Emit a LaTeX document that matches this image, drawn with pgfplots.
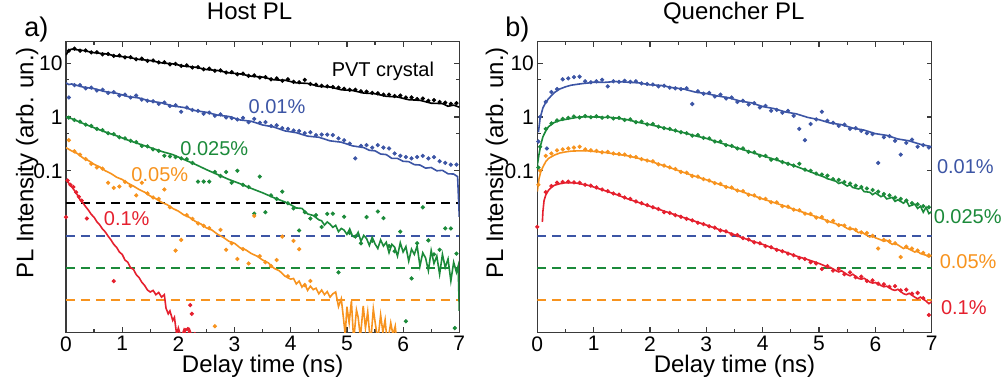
\documentclass[border=0pt]{standalone}
\usepackage{fontspec}
\setmainfont{Liberation Sans}
\usepackage{pgfplots}
\pgfplotsset{compat=1.18}
\definecolor{cblue}{HTML}{3C55A5}
\definecolor{cgreen}{HTML}{1B8A3A}
\definecolor{corange}{HTML}{F7931E}
\definecolor{cred}{HTML}{E5202E}
\definecolor{axgray}{HTML}{3A3A3A}
\tikzset{
  fitline/.style={line width=0.8pt, mark=none},
  dots/.style={only marks, mark=*, mark size=0.85pt},
  floor/.style={line width=0.8pt, dash pattern=on 4.5pt off 3pt, mark=none},
  ann/.style={font=\fontsize{10}{12}\selectfont, anchor=base, inner sep=0pt},
}
\pgfplotsset{
  every axis/.append style={
    ymode=log, xmin=0, xmax=7, ymin=1e-4, ymax=25,
    scale only axis, height=145.3pt,
    xtick={0,1,2,3,4,5,6,7}, minor x tick num=1,
    ytick={0.1,1,10}, yticklabels={0.1,1,10}, minor ytick={0.5,5},
    tick align=inside, major tick length=2.6pt, minor tick length=1.6pt,
    axis line style={draw=axgray, line width=0.7pt},
    every tick/.style={axgray, line width=0.6pt},
    tick label style={font=\fontsize{10.5}{12}\selectfont},
    yticklabel style={inner xsep=1.5pt},
    xticklabel style={yshift=1.5pt},
    /pgf/number format/assume math mode=true,
    title style={font=\fontsize{12}{14}\selectfont, anchor=base, inner sep=0pt},
  },
  every axis x label/.style={at={(axis description cs:0.5,0)}, anchor=north, yshift=-11.4pt, inner sep=0pt, font=\fontsize{12}{14}\selectfont},
}
\begin{document}
\begin{tikzpicture}
\useasboundingbox (0,0) rectangle (502.5pt,189pt);
% ================= LEFT: Host PL =================
\begin{axis}[at={(33pt,22.85pt)}, anchor=south west, width=196.65pt,
  title={Host PL}, title style={at={(axis description cs:0.467,1)}, yshift=5pt},
  xlabel={Delay time (ns)}, ylabel={PL Intensity (arb. un.)},
  every axis y label/.style={at={(axis description cs:-0.099,0.583)}, rotate=90, anchor=center, inner sep=0pt, font=\fontsize{12}{14}\selectfont}]
\addplot[floor, black] coordinates {(0,0.0251) (7,0.0251)};
\addplot[floor, cblue] coordinates {(0,0.0062) (7,0.0062)};
\addplot[floor, cgreen] coordinates {(0,0.00157) (7,0.00157)};
\addplot[floor, corange] coordinates {(0,0.000395) (7,0.000395)};
% black
\addplot[dots, black] coordinates {(0.05,17.0)(0.15,18.6)(0.25,17.0)(0.35,17.2)(0.45,15.8)(0.55,15.9)(0.65,14.6)(0.75,14.8)(0.85,13.6)(0.95,13.9)(1.05,12.8)(1.15,12.9)(1.25,11.8)(1.35,12.1)(1.45,11.0)(1.55,11.2)(1.65,10.3)(1.75,10.4)(1.85,9.5)(1.95,9.7)(2.05,8.9)(2.15,9.1)(2.25,8.3)(2.35,8.4)(2.45,7.7)(2.55,7.9)(2.65,7.2)(2.75,7.3)(2.85,6.7)(2.95,6.8)(3.05,6.2)(3.15,6.4)(3.25,5.8)(3.35,5.9)(3.45,5.4)(3.55,5.5)(3.65,5.0)(3.75,5.2)(3.85,4.7)(3.95,5.0)(4.05,4.5)(4.15,4.4)(4.25,4.9)(4.35,4.1)(4.45,4.0)(4.55,3.8)(4.65,3.7)(4.75,3.6)(4.85,3.5)(4.95,3.35)(5.05,3.2)(5.15,3.2)(5.25,3.0)(5.35,2.95)(5.45,2.8)(5.55,2.75)(5.65,2.6)(5.75,2.6)(5.85,2.45)(5.95,2.5)(6.05,2.3)(6.15,2.3)(6.25,2.15)(6.35,2.2)(6.45,2.0)(6.55,2.05)(6.65,1.9)(6.75,1.85)(6.85,1.75)(6.95,1.8)};
\addplot[fitline, black] coordinates {(0,14.1)(0.05,17.4)(0.1,18.2)(0.3,17.2)(0.5,15.6)(0.7,14.9)(0.9,13.5)(1.1,12.9)(1.3,11.7)(1.5,11.2)(1.7,10.1)(1.9,9.7)(2.1,8.8)(2.3,8.4)(2.5,7.6)(2.7,7.3)(2.9,6.6)(3.1,6.3)(3.3,5.7)(3.5,5.5)(3.7,4.9)(3.9,4.8)(4.1,4.3)(4.3,4.2)(4.5,3.7)(4.7,3.6)(4.9,3.2)(5.1,3.1)(5.3,2.78)(5.5,2.70)(5.7,2.42)(5.9,2.35)(6.1,2.09)(6.3,2.04)(6.5,1.80)(6.7,1.77)(6.8,1.58)(6.9,1.66)(7.0,1.52)};
% blue
\addplot[dots, cblue] coordinates {(0.05,2.3)(0.15,3.9)(0.25,3.9)(0.35,3.4)(0.45,3.5)(0.55,3.1)(0.65,3.2)(0.75,2.8)(0.85,2.9)(0.95,2.5)(1.05,2.6)(1.15,2.3)(1.25,2.5)(1.35,2.1)(1.45,2.0)(1.55,1.95)(1.65,1.75)(1.75,1.85)(1.85,1.6)(1.95,1.65)(2.05,1.25)(2.15,1.5)(2.25,1.35)(2.35,1.30)(2.45,1.15)(2.55,1.2)(2.65,1.05)(2.75,1.12)(2.85,0.98)(2.95,0.95)(3.05,0.90)(3.15,0.96)(3.25,0.80)(3.35,0.92)(3.45,0.78)(3.55,0.80)(3.65,0.68)(3.75,0.70)(3.85,0.62)(3.95,0.60)(4.05,0.56)(4.15,0.55)(4.25,0.50)(4.35,0.52)(4.45,0.46)(4.55,0.47)(4.65,0.47)(4.75,0.46)(4.85,0.40)(4.95,0.37)(5.05,0.32)(5.15,0.17)(5.25,0.29)(5.35,0.30)(5.45,0.27)(5.55,0.30)(5.65,0.27)(5.75,0.26)(5.85,0.21)(5.95,0.19)(6.05,0.18)(6.15,0.17)(6.25,0.18)(6.35,0.19)(6.45,0.17)(6.55,0.18)(6.65,0.15)(6.75,0.14)(6.85,0.13)(6.95,0.13)};
\addplot[fitline, cblue] coordinates {(0,4.3)(0.05,4.0)(0.1,4.1)(0.3,3.6)(0.5,3.35)(0.7,2.95)(0.9,2.75)(1.1,2.4)(1.3,2.25)(1.5,1.97)(1.7,1.83)(1.9,1.6)(2.1,1.50)(2.3,1.31)(2.5,1.22)(2.7,1.08)(2.9,1.02)(3.1,0.88)(3.3,0.83)(3.5,0.71)(3.7,0.65)(3.9,0.55)(4.1,0.51)(4.3,0.44)(4.5,0.42)(4.7,0.36)(4.9,0.34)(5.1,0.29)(5.3,0.27)(5.4,0.24)(5.5,0.235)(5.6,0.205)(5.7,0.20)(5.8,0.17)(5.9,0.17)(6.0,0.15)(6.1,0.148)(6.2,0.13)(6.3,0.128)(6.4,0.112)(6.5,0.115)(6.6,0.10)(6.7,0.102)(6.8,0.088)(6.9,0.087)(6.97,0.078)(7.0,0.014)};
% green
\addplot[dots, cgreen] coordinates {(0.05,0.97)(0.15,0.88)(0.25,0.82)(0.35,0.72)(0.45,0.68)(0.55,0.60)(0.65,0.57)(0.75,0.50)(0.85,0.48)(0.95,0.42)(1.05,0.40)(1.15,0.36)(1.25,0.34)(1.35,0.29)(1.45,0.285)(1.55,0.25)(1.65,0.235)(1.75,0.19)(1.85,0.185)(1.95,0.18)(2.05,0.17)(2.15,0.165)(2.25,0.14)(2.35,0.063)(2.45,0.063)(2.55,0.063)(2.65,0.095)(2.75,0.080)(2.85,0.095)(2.95,0.060)(3.05,0.10)(3.15,0.055)(3.25,0.050)(3.35,0.016)(3.45,0.078)(3.55,0.017)(3.65,0.035)(3.75,0.030)(3.85,0.041)(3.95,0.025)(4.05,0.020)(4.15,0.0078)(4.25,0.017)(4.35,0.013)(4.45,0.015)(4.55,0.0090)(4.65,0.0158)(4.75,0.016)(4.85,0.0013)(4.95,0.014)(5.05,0.0070)(5.15,0.0060)(5.25,0.0045)(5.35,0.0138)(5.45,0.0050)(5.55,0.0175)(5.65,0.0132)(5.75,0.0040)(5.85,0.0032)(5.95,0.0074)(6.05,0.00016)(6.15,0.0010)(6.25,0.0045)(6.35,0.021)(6.45,0.0051)(6.55,0.0028)(6.65,0.0034)(6.75,0.0085)(6.85,0.0085)(6.92,0.00012)(6.95,0.0029)};
\addplot[fitline, cgreen] coordinates {(0,1.0)(0.1,0.93)(0.3,0.76)(0.5,0.63)(0.7,0.525)(0.9,0.447)(1.1,0.372)(1.3,0.316)(1.5,0.269)(1.7,0.229)(1.9,0.20)(2.1,0.162)(2.3,0.132)(2.5,0.105)(2.7,0.085)(2.9,0.069)(3.1,0.0575)(3.3,0.047)(3.5,0.039)(3.7,0.0316)(3.9,0.0263)(4.0,0.0234)(4.1,0.0204)(4.2,0.020)(4.3,0.0158)(4.4,0.0148)(4.5,0.0123)(4.55,0.0118)(4.6,0.0098)(4.65,0.0112)(4.7,0.0102)(4.75,0.0089)(4.8,0.0097)(4.85,0.0074)(4.9,0.0085)(4.95,0.0079)(5.0,0.0066)(5.05,0.0083)(5.1,0.0061)(5.15,0.0058)(5.2,0.0072)(5.25,0.0049)(5.3,0.0063)(5.35,0.0055)(5.4,0.0041)(5.45,0.0058)(5.5,0.0044)(5.55,0.0036)(5.6,0.0052)(5.65,0.0040)(5.7,0.0047)(5.75,0.0030)(5.8,0.0043)(5.85,0.0038)(5.9,0.0026)(5.95,0.0046)(6.0,0.0031)(6.05,0.0039)(6.1,0.0021)(6.15,0.0035)(6.2,0.0028)(6.25,0.0040)(6.3,0.0017)(6.35,0.0030)(6.4,0.0024)(6.45,0.0014)(6.5,0.0033)(6.55,0.0019)(6.6,0.0026)(6.65,0.0012)(6.7,0.0028)(6.75,0.0016)(6.8,0.0023)(6.85,0.0009)(6.9,0.0020)(6.95,0.0013)(6.98,0.0017)(7.0,0.00025)};
% orange
\addplot[dots, corange] coordinates {(0.05,0.37)(0.15,0.23)(0.25,0.20)(0.35,0.165)(0.45,0.135)(0.55,0.115)(0.65,0.110)(0.75,0.060)(0.85,0.048)(0.95,0.051)(1.05,0.062)(1.15,0.052)(1.25,0.035)(1.35,0.060)(1.45,0.038)(1.55,0.032)(1.65,0.030)(1.75,0.045)(1.85,0.021)(1.95,0.0033)(2.05,0.0052)(2.15,0.0150)(2.25,0.0128)(2.35,0.0105)(2.45,0.0095)(2.55,0.0086)(2.65,0.00013)(2.75,0.0080)(2.85,0.0034)(2.95,0.0045)(3.05,0.0023)(3.15,0.0035)(3.25,0.0019)(3.35,0.0145)(3.45,0.0026)(3.55,0.0020)(3.65,0.0017)(3.75,0.0022)(3.85,0.0060)(3.95,0.0011)(4.05,0.0050)(4.15,0.0035)(4.25,0.00075)(4.35,0.0009)};
\addplot[fitline, corange] coordinates {(0,0.269)(0.1,0.234)(0.2,0.210)(0.3,0.174)(0.4,0.155)(0.5,0.132)(0.6,0.118)(0.7,0.100)(0.8,0.089)(0.9,0.076)(1.0,0.069)(1.1,0.059)(1.2,0.052)(1.3,0.045)(1.4,0.040)(1.5,0.034)(1.6,0.0302)(1.7,0.026)(1.8,0.0235)(1.9,0.020)(2.0,0.0178)(2.1,0.0151)(2.2,0.0136)(2.3,0.0115)(2.4,0.0103)(2.5,0.0087)(2.6,0.0079)(2.7,0.0066)(2.8,0.0058)(2.9,0.0049)(3.0,0.0045)(3.1,0.0037)(3.2,0.0034)(3.3,0.0029)(3.4,0.0026)(3.5,0.0022)(3.6,0.00195)(3.7,0.00155)(3.8,0.00138)(3.9,0.0011)(4.0,0.00097)(4.05,0.0010)(4.1,0.00079)(4.15,0.00089)(4.2,0.00069)(4.25,0.00079)(4.3,0.0006)(4.35,0.00072)(4.4,0.00062)(4.45,0.00066)(4.5,0.00052)(4.55,0.00061)(4.6,0.00050)(4.65,0.00057)(4.7,0.00045)(4.75,0.00052)(4.8,0.00056)(4.85,0.00030)(4.9,0.00042)(4.93,0.00022)(4.97,0.00009)(5.0,0.00030)(5.04,0.00015)(5.08,0.00038)(5.12,0.00007)(5.17,0.00026)(5.2,0.00019)(5.24,0.00008)(5.29,0.00031)(5.33,0.00012)(5.37,0.00024)(5.42,0.00006)(5.47,0.00027)(5.5,0.00016)(5.55,0.00007)(5.6,0.00021)(5.64,0.0001)(5.68,0.00017)(5.72,0.00006)(5.78,0.00015)(5.82,0.00009)(5.86,0.00013)(5.9,0.00005)};
% red
\addplot[dots, cred] coordinates {(0.0,0.0138)(0.03,0.066)(0.08,0.055)(0.13,0.050)(0.18,0.040)(0.23,0.033)(0.28,0.028)(0.37,0.013)(0.85,0.00089)(2.12,0.00011)(2.17,0.000115)(2.21,0.00032)(2.24,0.00022)};
\addplot[fitline, cred] coordinates {(0,0.068)(0.05,0.059)(0.1,0.051)(0.15,0.043)(0.2,0.036)(0.25,0.029)(0.3,0.0255)(0.35,0.0215)(0.4,0.0185)(0.45,0.0155)(0.5,0.0137)(0.55,0.0113)(0.6,0.0099)(0.65,0.0083)(0.7,0.0073)(0.75,0.0061)(0.8,0.0052)(0.85,0.0043)(0.9,0.0038)(0.95,0.0031)(1.0,0.0028)(1.05,0.0022)(1.1,0.0020)(1.15,0.00158)(1.2,0.00148)(1.25,0.00118)(1.3,0.00104)(1.35,0.00085)(1.4,0.00074)(1.45,0.00061)(1.5,0.00056)(1.55,0.0006)(1.6,0.0005)(1.65,0.00055)(1.7,0.00045)(1.75,0.0005)(1.78,0.00028)(1.82,0.00022)(1.85,0.00025)(1.9,0.000166)(1.93,0.00019)(1.97,0.00009)(2.0,0.00012)(2.05,0.00008)(2.1,0.000112)(2.15,0.00008)(2.2,0.000112)(2.25,0.00008)(2.3,0.0001)};
\node[ann] at (axis cs:5.64,5.58) {PVT crystal};
\node[ann, text=cblue] at (axis cs:3.755,1.17) {0.01\%};
\node[ann, text=cgreen] at (axis cs:2.64,0.196) {0.025\%};
\node[ann, text=corange] at (axis cs:1.67,0.0645) {0.05\%};
\node[ann, text=cred] at (axis cs:1.08,0.0098) {0.1\%};
\end{axis}
% ================= RIGHT: Quencher PL =================
\begin{axis}[at={(268.65pt,22.85pt)}, anchor=south west, width=197.2pt,
  title={Quencher PL}, title style={at={(axis description cs:0.498,1)}, yshift=5pt},
  xlabel={Delay time (ns)}, ylabel={PL Intensity (arb. un.)},
  every axis y label/.style={at={(axis description cs:-0.1025,0.583)}, rotate=90, anchor=center, inner sep=0pt, font=\fontsize{12}{14}\selectfont}]
\addplot[floor, cblue] coordinates {(0,0.0062) (7,0.0062)};
\addplot[floor, cgreen] coordinates {(0,0.00157) (7,0.00157)};
\addplot[floor, corange] coordinates {(0,0.000395) (7,0.000395)};
% blue
\addplot[dots, cblue] coordinates {(0.02,0.35)(0.05,1.0)(0.15,1.9)(0.17,0.26)(0.25,2.9)(0.35,3.3)(0.45,5.0)(0.55,5.2)(0.65,5.5)(0.75,5.6)(0.85,4.6)(0.95,4.4)(1.05,4.6)(1.15,4.9)(1.25,3.7)(1.35,4.6)(1.45,4.5)(1.55,4.7)(1.65,4.5)(1.75,4.6)(1.85,4.2)(1.95,4.1)(2.05,4.0)(2.15,3.7)(2.25,3.8)(2.35,3.5)(2.45,3.4)(2.55,3.3)(2.65,3.4)(2.75,1.74)(2.85,3.0)(2.95,2.7)(3.05,2.8)(3.15,2.4)(3.25,2.6)(3.35,2.2)(3.45,2.3)(3.55,1.9)(3.65,2.0)(3.75,1.7)(3.85,1.8)(3.95,1.5)(4.05,1.6)(4.15,1.3)(4.25,1.35)(4.35,1.2)(4.45,1.3)(4.55,1.05)(4.65,0.6)(4.75,0.37)(4.85,0.74)(4.95,0.9)(5.05,1.25)(5.15,0.85)(5.25,0.78)(5.35,0.68)(5.45,0.72)(5.55,0.6)(5.65,0.62)(5.75,0.55)(5.85,0.50)(5.95,0.48)(6.05,0.14)(6.15,0.42)(6.25,0.44)(6.35,0.36)(6.45,0.20)(6.55,0.33)(6.65,0.38)(6.75,0.28)(6.85,0.30)(6.95,0.27)};
\addplot[fitline, cblue] coordinates {(0.02,0.52)(0.05,0.95)(0.1,1.48)(0.15,1.86)(0.2,2.19)(0.3,2.82)(0.4,3.31)(0.5,3.63)(0.6,3.89)(0.7,4.03)(0.8,4.17)(0.9,4.27)(1.0,4.42)(1.2,4.40)(1.4,4.55)(1.6,4.42)(1.8,4.30)(2.0,3.95)(2.2,3.85)(2.4,3.50)(2.6,3.30)(2.8,2.90)(3.0,2.72)(3.2,2.45)(3.4,2.27)(3.6,1.97)(3.8,1.83)(4.0,1.56)(4.2,1.43)(4.4,1.24)(4.6,1.14)(4.8,0.98)(5.0,0.89)(5.2,0.77)(5.4,0.72)(5.6,0.62)(5.8,0.57)(6.0,0.49)(6.2,0.455)(6.4,0.39)(6.6,0.36)(6.8,0.31)(7.0,0.28)};
% green
\addplot[dots, cgreen] coordinates {(0.02,0.115)(0.05,0.28)(0.15,0.60)(0.25,0.76)(0.35,0.86)(0.45,0.92)(0.55,0.96)(0.65,1.02)(0.75,0.98)(0.85,1.04)(0.95,0.99)(1.05,1.03)(1.15,0.97)(1.25,1.00)(1.35,0.94)(1.45,0.96)(1.55,0.88)(1.65,0.90)(1.75,0.80)(1.85,0.82)(1.95,0.73)(2.05,0.74)(2.15,0.66)(2.25,0.62)(2.35,0.60)(2.45,0.56)(2.55,0.52)(2.65,0.50)(2.75,0.45)(2.85,0.46)(2.95,0.41)(3.05,0.40)(3.15,0.35)(3.25,0.35)(3.35,0.30)(3.45,0.29)(3.55,0.26)(3.65,0.26)(3.75,0.225)(3.85,0.22)(3.95,0.19)(4.05,0.19)(4.15,0.16)(4.25,0.165)(4.35,0.145)(4.45,0.135)(4.55,0.125)(4.65,0.135)(4.75,0.105)(4.85,0.10)(4.95,0.089)(5.05,0.085)(5.15,0.081)(5.25,0.070)(5.35,0.068)(5.45,0.062)(5.55,0.058)(5.65,0.053)(5.75,0.050)(5.85,0.047)(5.95,0.044)(6.05,0.041)(6.15,0.037)(6.25,0.035)(6.35,0.032)(6.45,0.030)(6.55,0.028)(6.65,0.025)(6.75,0.024)(6.85,0.022)(6.95,0.021)};
\addplot[fitline, cgreen] coordinates {(0,0.126)(0.03,0.20)(0.06,0.30)(0.1,0.43)(0.15,0.55)(0.2,0.66)(0.3,0.79)(0.4,0.86)(0.5,0.90)(0.6,0.94)(0.7,0.98)(0.8,1.0)(0.9,1.01)(1.0,1.0)(1.1,1.0)(1.2,0.98)(1.3,0.98)(1.4,0.955)(1.6,0.89)(1.8,0.79)(2.0,0.72)(2.2,0.645)(2.4,0.57)(2.6,0.51)(2.8,0.447)(3.0,0.40)(3.2,0.343)(3.4,0.295)(3.6,0.257)(3.8,0.221)(4.0,0.19)(4.2,0.164)(4.4,0.141)(4.6,0.12)(4.8,0.10)(5.0,0.083)(5.1,0.076)(5.15,0.071)(5.2,0.069)(5.3,0.064)(5.35,0.058)(5.4,0.061)(5.5,0.052)(5.55,0.055)(5.6,0.049)(5.7,0.046)(5.75,0.048)(5.8,0.041)(5.9,0.040)(5.95,0.036)(6.0,0.039)(6.1,0.033)(6.15,0.035)(6.2,0.030)(6.3,0.032)(6.35,0.027)(6.4,0.029)(6.5,0.025)(6.55,0.028)(6.6,0.022)(6.7,0.024)(6.75,0.020)(6.8,0.022)(6.85,0.017)(6.9,0.021)(6.95,0.016)(7.0,0.0175)};
% orange
\addplot[dots, corange] coordinates {(0.02,0.055)(0.05,0.10)(0.15,0.19)(0.25,0.21)(0.35,0.24)(0.45,0.25)(0.55,0.26)(0.65,0.27)(0.75,0.28)(0.85,0.25)(0.95,0.24)(1.05,0.235)(1.15,0.22)(1.25,0.225)(1.35,0.21)(1.45,0.205)(1.55,0.20)(1.65,0.185)(1.75,0.18)(1.85,0.165)(1.95,0.155)(2.05,0.15)(2.15,0.132)(2.25,0.125)(2.35,0.116)(2.45,0.108)(2.55,0.095)(2.65,0.092)(2.75,0.080)(2.85,0.078)(2.95,0.070)(3.05,0.066)(3.15,0.059)(3.25,0.057)(3.35,0.050)(3.45,0.049)(3.55,0.043)(3.65,0.042)(3.75,0.036)(3.85,0.035)(3.95,0.031)(4.05,0.030)(4.15,0.026)(4.25,0.026)(4.35,0.022)(4.45,0.0215)(4.55,0.019)(4.65,0.0185)(4.75,0.016)(4.85,0.0158)(4.95,0.0135)(5.05,0.0138)(5.15,0.0115)(5.25,0.0118)(5.35,0.0098)(5.45,0.0096)(5.55,0.0085)(5.65,0.0080)(5.75,0.0072)(5.85,0.0070)(5.95,0.0062)(6.05,0.0036)(6.15,0.0052)(6.25,0.0049)(6.35,0.0045)(6.45,0.0025)(6.55,0.0039)(6.65,0.0036)(6.75,0.0033)(6.85,0.0030)(6.95,0.0027)};
\addplot[fitline, corange] coordinates {(0,0.041)(0.03,0.071)(0.06,0.095)(0.1,0.118)(0.15,0.148)(0.2,0.17)(0.3,0.195)(0.4,0.214)(0.5,0.224)(0.6,0.232)(0.7,0.234)(0.8,0.234)(0.9,0.234)(1.0,0.229)(1.2,0.219)(1.4,0.204)(1.6,0.19)(1.8,0.17)(2.0,0.151)(2.2,0.129)(2.4,0.11)(2.6,0.093)(2.8,0.079)(3.0,0.068)(3.2,0.0575)(3.4,0.049)(3.6,0.042)(3.8,0.0355)(4.0,0.030)(4.2,0.0257)(4.4,0.0219)(4.6,0.0186)(4.7,0.0172)(4.8,0.0158)(4.9,0.0146)(5.0,0.0135)(5.1,0.0124)(5.15,0.0118)(5.2,0.0112)(5.3,0.0104)(5.35,0.0096)(5.4,0.0099)(5.5,0.0085)(5.55,0.0081)(5.6,0.0084)(5.7,0.0071)(5.75,0.0074)(5.8,0.0068)(5.9,0.0059)(5.95,0.0061)(6.0,0.0057)(6.1,0.0052)(6.15,0.0049)(6.2,0.0051)(6.3,0.0043)(6.35,0.0045)(6.4,0.0042)(6.5,0.0036)(6.55,0.0038)(6.6,0.0035)(6.7,0.0031)(6.75,0.0032)(6.8,0.0029)(6.9,0.0027)(6.95,0.0025)(7.0,0.0027)};
% red
\addplot[dots, cred] coordinates {(0.0,0.0091)(0.15,0.040)(0.25,0.052)(0.35,0.060)(0.45,0.062)(0.55,0.063)(0.65,0.061)(0.75,0.060)(0.85,0.055)(0.95,0.053)(1.05,0.049)(1.15,0.045)(1.25,0.042)(1.35,0.038)(1.45,0.036)(1.55,0.032)(1.65,0.030)(1.75,0.027)(1.85,0.025)(1.95,0.023)(2.05,0.021)(2.15,0.0195)(2.25,0.017)(2.35,0.0165)(2.45,0.015)(2.55,0.0140)(2.65,0.0128)(2.75,0.0120)(2.85,0.0108)(2.95,0.0102)(3.05,0.0093)(3.15,0.0088)(3.25,0.0078)(3.35,0.0075)(3.45,0.0066)(3.55,0.0064)(3.65,0.0056)(3.75,0.0053)(3.85,0.0047)(3.95,0.0045)(4.05,0.0040)(4.15,0.0038)(4.25,0.0034)(4.35,0.0032)(4.45,0.0029)(4.55,0.0027)(4.65,0.0024)(4.75,0.0023)(4.85,0.0020)(4.95,0.0019)(5.05,0.0015)(5.15,0.0017)(5.25,0.0014)(5.35,0.0015)(5.45,0.0012)(5.55,0.0013)(5.65,0.00105)(5.75,0.00108)(5.85,0.00090)(5.95,0.00092)(6.05,0.00080)(6.15,0.00078)(6.25,0.00070)(6.35,0.00072)(6.45,0.00060)(6.55,0.00062)(6.65,0.00052)(6.75,0.00054)(6.85,0.00043)(6.95,0.00021)};
\addplot[fitline, cred] coordinates {(0.09,0.0112)(0.1,0.0178)(0.12,0.028)(0.15,0.0355)(0.2,0.0437)(0.25,0.049)(0.3,0.0537)(0.4,0.0575)(0.5,0.060)(0.6,0.060)(0.7,0.0589)(0.8,0.0562)(0.9,0.0537)(1.0,0.050)(1.2,0.0427)(1.4,0.0363)(1.6,0.0302)(1.8,0.0257)(2.0,0.0219)(2.2,0.0186)(2.4,0.0158)(2.6,0.0135)(2.8,0.0115)(3.0,0.0098)(3.2,0.0083)(3.4,0.0071)(3.6,0.0059)(3.8,0.0050)(4.0,0.0043)(4.2,0.0036)(4.4,0.0031)(4.6,0.0026)(4.8,0.00224)(5.0,0.0019)(5.1,0.00172)(5.15,0.00158)(5.2,0.00161)(5.3,0.00140)(5.35,0.00132)(5.4,0.00139)(5.5,0.00118)(5.55,0.00112)(5.6,0.00120)(5.7,0.00100)(5.75,0.00097)(5.8,0.00101)(5.9,0.00086)(5.95,0.00082)(6.0,0.00084)(6.1,0.00074)(6.15,0.00070)(6.2,0.00072)(6.3,0.00062)(6.35,0.00060)(6.4,0.00063)(6.5,0.00052)(6.55,0.00050)(6.6,0.00053)(6.7,0.00045)(6.75,0.00042)(6.8,0.00045)(6.9,0.00038)(6.95,0.00034)(7.0,0.00037)};
\end{axis}
% panel letters and right-hand labels
\node[anchor=base west, inner sep=0pt, font=\fontsize{13.5}{15}\selectfont] at (12pt,170.6pt) {a)};
\node[anchor=base west, inner sep=0pt, font=\fontsize{13.5}{15}\selectfont] at (252.5pt,170.6pt) {b)};
\node[ann, anchor=base west, text=cblue] at (468.3pt,102.3pt) {0.01\%};
\node[ann, anchor=base west, text=cgreen] at (466.7pt,77pt) {0.025\%};
\node[ann, anchor=base west, text=corange] at (469.7pt,54.8pt) {0.05\%};
\node[ann, anchor=base west, text=cred] at (470.3pt,31.5pt) {0.1\%};
\end{tikzpicture}
\end{document}
